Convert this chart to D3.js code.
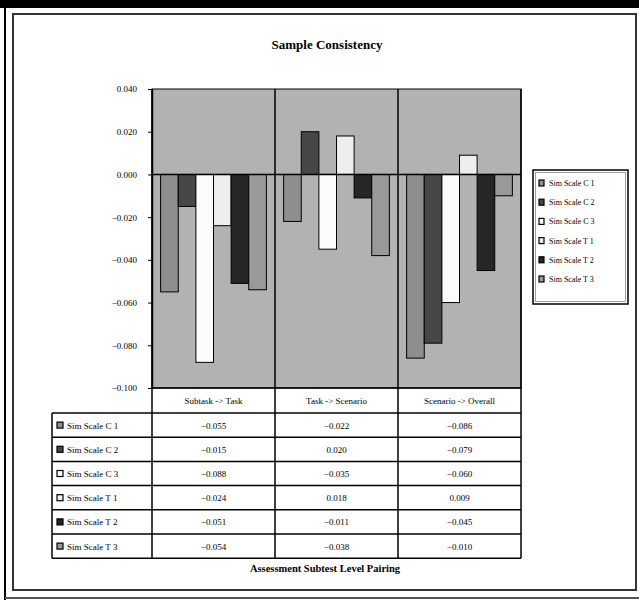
<!DOCTYPE html>
<html>
<head>
<meta charset="utf-8">
<script src="https://cdn.jsdelivr.net/npm/d3@7"></script>
<style>
  html, body { margin: 0; padding: 0; background: #fff; }
  svg { display: block; font-family: "Liberation Serif", "DejaVu Serif", serif; }
</style>
</head>
<body>
<svg id="chart" width="639" height="600"></svg>
<script>
// Category pairings along the x axis
const categories = ["Subtask -> Task", "Task -> Scenario", "Scenario -> Overall"];
// Series names (legend + data table rows)
const seriesNames = ["Sim Scale C 1", "Sim Scale C 2", "Sim Scale C 3", "Sim Scale T 1", "Sim Scale T 2", "Sim Scale T 3"];
// One array of values per series, in category order
const simC1 = [-0.055, -0.022, -0.086];
const simC2 = [-0.015, 0.020, -0.079];
const simC3 = [-0.088, -0.035, -0.060];
const simT1 = [-0.024, 0.018, 0.009];
const simT2 = [-0.051, -0.011, -0.045];
const simT3 = [-0.054, -0.038, -0.010];
const seriesValues = [simC1, simC2, simC3, simT1, simT2, simT3];
const yTicks = [0.04, 0.02, 0.0, -0.02, -0.04, -0.06, -0.08, -0.1];
const seriesColors = ["#8e8e8e", "#474747", "#fbfbfb", "#eeeeee", "#262626", "#999999"];

const svg = d3.select("#chart");

// Outer frame
svg.append("rect").attr("x", 0).attr("y", 0).attr("width", 639).attr("height", 8).attr("fill", "#000");
svg.append("line").attr("x1", 5).attr("x2", 5).attr("y1", 0).attr("y2", 600).attr("stroke", "#000").attr("stroke-width", 2);
svg.append("line").attr("x1", 5).attr("x2", 639).attr("y1", 598).attr("y2", 598).attr("stroke", "#555").attr("stroke-width", 2);
svg.append("rect").attr("x", 13).attr("y", 14).attr("width", 623).attr("height", 576)
  .attr("fill", "#fff").attr("stroke", "#333").attr("stroke-width", 2);

// Title
svg.append("text").attr("x", 327).attr("y", 49).attr("text-anchor", "middle")
  .attr("font-size", 13).attr("font-weight", "bold").text("Sample Consistency");

// Plot area
const plotL = 152, plotR = 521, plotT = 89, plotB = 388;
const x = d3.scaleBand().domain(categories).range([plotL, plotR]);
const y = d3.scaleLinear().domain([-0.1, 0.04]).range([plotB, plotT]);
const xs = d3.scaleBand().domain(d3.range(seriesNames.length)).range([0, x.bandwidth()]).paddingOuter(0.49).paddingInner(0);

svg.append("rect").attr("x", plotL).attr("y", plotT).attr("width", plotR - plotL).attr("height", plotB - plotT)
  .attr("fill", "#b2b2b2").attr("stroke", "#000").attr("stroke-width", 1);

// Bars
seriesValues.forEach((vals, si) => {
  svg.append("g").selectAll("rect").data(vals).join("rect")
    .attr("x", (d, i) => x(categories[i]) + xs(si))
    .attr("width", xs.bandwidth())
    .attr("y", d => y(Math.max(0, d)))
    .attr("height", d => Math.abs(y(d) - y(0)))
    .attr("fill", seriesColors[si])
    .attr("stroke", "#000").attr("stroke-width", 1);
});

// Zero line and category dividers
svg.append("line").attr("x1", plotL).attr("x2", plotR).attr("y1", y(0)).attr("y2", y(0))
  .attr("stroke", "#000").attr("stroke-width", 1.5);

// Y axis
const yAxis = d3.axisLeft(y).tickValues(yTicks).tickFormat(d3.format(".3f")).tickSize(4).tickSizeOuter(0);
const gy = svg.append("g").attr("transform", `translate(${plotL},0)`).call(yAxis);
gy.select(".domain").attr("stroke", "#000").attr("stroke-width", 1.5);
gy.selectAll("text").attr("font-size", 9).attr("font-family", "Liberation Serif, serif").attr("dx", "-8");

// Data table
const rowLabelL = 52, catRowT = plotB, catRowH = 25, rowH = 24.2;
const tableT = catRowT + catRowH;
const tableB = tableT + rowH * seriesNames.length;
const g = svg.append("g").attr("fill", "none").attr("stroke", "#000");

// category label row
g.append("line").attr("x1", plotL).attr("x2", plotR).attr("y1", catRowT).attr("y2", catRowT).attr("stroke-width", 1.5);
categories.forEach(c => {
  svg.append("text").attr("x", x(c) + x.bandwidth() / 2).attr("y", catRowT + 16)
    .attr("text-anchor", "middle").attr("font-size", 9).text(c);
});
// horizontal rules
for (let i = 0; i <= seriesNames.length; i++) {
  g.append("line").attr("x1", rowLabelL).attr("x2", plotR)
    .attr("y1", tableT + i * rowH).attr("y2", tableT + i * rowH).attr("stroke-width", 1.5);
}
// vertical rules
g.append("line").attr("x1", rowLabelL).attr("x2", rowLabelL).attr("y1", tableT).attr("y2", tableB).attr("stroke-width", 1.5);
[plotL, ...categories.map(c => x(c) + x.bandwidth())].forEach(xv => {
  g.append("line").attr("x1", xv).attr("x2", xv).attr("y1", plotT).attr("y2", tableB).attr("stroke-width", 1.5);
});
// row labels and values
const fmt = d3.format(".3f");
seriesNames.forEach((name, si) => {
  const cy = tableT + si * rowH + rowH / 2;
  svg.append("rect").attr("x", rowLabelL + 5).attr("y", cy - 3).attr("width", 6).attr("height", 6)
    .attr("fill", seriesColors[si]).attr("stroke", "#000").attr("stroke-width", 1.2);
  svg.append("text").attr("x", rowLabelL + 15).attr("y", cy + 3.5).attr("font-size", 9).text(name);
  seriesValues[si].forEach((v, ci) => {
    svg.append("text").attr("x", x(categories[ci]) + x.bandwidth() / 2).attr("y", cy + 3.5)
      .attr("text-anchor", "middle").attr("font-size", 9).text(fmt(v));
  });
});

// X axis title
svg.append("text").attr("x", 325).attr("y", 572).attr("text-anchor", "middle")
  .attr("font-size", 10.5).attr("font-weight", "bold").text("Assessment Subtest Level Pairing");

// Legend
const legX = 533, legY = 170, legW = 95, legH = 134;
svg.append("rect").attr("x", legX).attr("y", legY).attr("width", legW).attr("height", legH)
  .attr("fill", "#fff").attr("stroke", "#000").attr("stroke-width", 1.5);
svg.append("rect").attr("x", legX + 2.5).attr("y", legY + 2.5).attr("width", legW - 5).attr("height", legH - 5)
  .attr("fill", "none").attr("stroke", "#888").attr("stroke-width", 0.8);
const legRows = d3.scalePoint().domain(seriesNames).range([legY + 13, legY + legH - 25]);
seriesNames.forEach((name, si) => {
  const cy = legRows(name);
  svg.append("rect").attr("x", legX + 6).attr("y", cy - 3).attr("width", 5).attr("height", 6)
    .attr("fill", seriesColors[si]).attr("stroke", "#000").attr("stroke-width", 1.2);
  svg.append("text").attr("x", legX + 16).attr("y", cy + 3).attr("font-size", 8).text(name);
});
</script>
</body>
</html>
